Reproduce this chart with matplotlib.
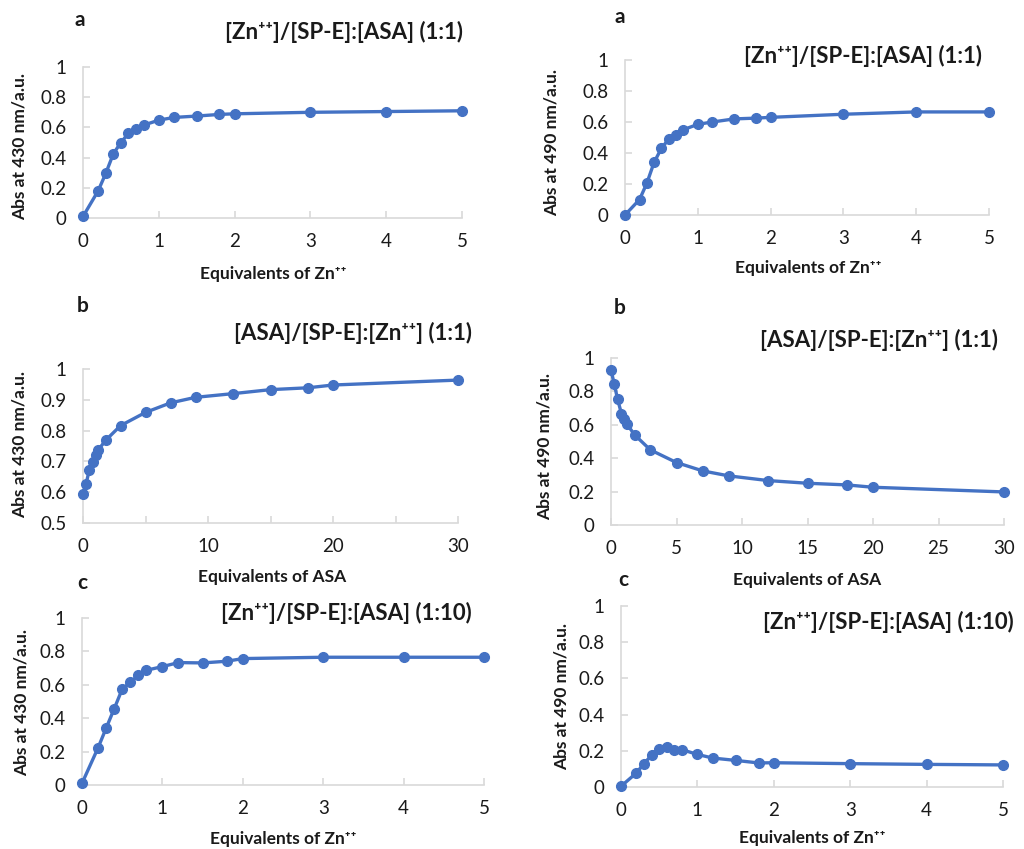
import matplotlib
matplotlib.use("Agg")
import matplotlib.pyplot as plt

plt.rcParams['font.family'] = ['Lato', 'DejaVu Sans']

# data
zn_eq = [0, 0.2, 0.3, 0.4, 0.5, 0.6, 0.7, 0.8, 1, 1.2, 1.5, 1.8, 2, 3, 4, 5]
asa_eq = [0, 0.25, 0.5, 0.8, 1, 1.2, 1.8, 3, 5, 7, 9, 12, 15, 18, 20, 30]

abs430_a = [0.01, 0.18, 0.295, 0.425, 0.50, 0.56, 0.59, 0.615, 0.648, 0.666, 0.675, 0.686, 0.69, 0.70, 0.705, 0.71]
abs490_a = [0.0, 0.10, 0.205, 0.34, 0.43, 0.49, 0.515, 0.55, 0.585, 0.60, 0.62, 0.625, 0.63, 0.65, 0.665, 0.665]
abs430_b = [0.594, 0.628, 0.671, 0.698, 0.72, 0.736, 0.768, 0.816, 0.859, 0.89, 0.908, 0.92, 0.933, 0.939, 0.948, 0.964]
abs490_b = [0.928, 0.844, 0.754, 0.666, 0.634, 0.606, 0.54, 0.45, 0.374, 0.324, 0.294, 0.266, 0.25, 0.24, 0.226, 0.198]
abs430_c = [0.01, 0.223, 0.34, 0.456, 0.574, 0.614, 0.657, 0.687, 0.709, 0.733, 0.731, 0.741, 0.757, 0.765, 0.765, 0.765]
abs490_c = [0.004, 0.077, 0.129, 0.175, 0.21, 0.219, 0.204, 0.206, 0.18, 0.16, 0.147, 0.133, 0.134, 0.129, 0.125, 0.122]

zn = 'Zn\u207a\u207a'
title_a = '[' + zn + ']/[SP-E]:[ASA] (1:1)'
title_b = '[ASA]/[SP-E]:[' + zn + '] (1:1)'
title_c = '[' + zn + ']/[SP-E]:[ASA] (1:10)'

W, H = 1024, 849
blue = '#4472C4'
grey = '#D9D9D9'
txt = '#1a1a1a'

fig = plt.figure(figsize=(W / 100, H / 100), dpi=100)


def px(x, y):
    return x / W, 1 - y / H


def make_axes(l, r, t, b):
    ax = fig.add_axes([l / W, 1 - b / H, (r - l) / W, (b - t) / H])
    for s in ['top', 'right']:
        ax.spines[s].set_visible(False)
    for s in ['left', 'bottom']:
        ax.spines[s].set_color(grey)
        ax.spines[s].set_linewidth(1.2)
    ax.tick_params(direction='in', length=5, width=1.2, color=grey,
                   labelsize=13.5, labelcolor=txt)
    ax.tick_params(axis='x', pad=11)
    ax.tick_params(axis='y', pad=12)
    ax.tick_params(which='minor', direction='in', length=5, width=1.2, color=grey)
    return ax


panels = [
    # x, y, axes box, y ticks, x ticks, letter, title, xlabel, ylabel
    dict(x=zn_eq, y=abs430_a, box=(83, 462, 67, 218), yt=[0, 0.2, 0.4, 0.6, 0.8, 1],
         xt=[0, 1, 2, 3, 4, 5], letter=('a', 80, 20), title=(title_a, 344, 32),
         xl=('Equivalents of ' + zn, 273, 274), yl=('Abs at 430 nm/a.u.', 20, 147)),
    dict(x=zn_eq, y=abs490_a, box=(625, 989, 60, 215), yt=[0, 0.2, 0.4, 0.6, 0.8, 1],
         xt=[0, 1, 2, 3, 4, 5], letter=('a', 620, 17), title=(title_a, 863, 56),
         xl=('Equivalents of ' + zn, 808, 268), yl=('Abs at 490 nm/a.u.', 552, 143)),
    dict(x=asa_eq, y=abs430_b, box=(83, 458, 369, 523), yt=[0.5, 0.6, 0.7, 0.8, 0.9, 1],
         xt=[0, 10, 20, 30], letter=('b', 83, 306), title=(title_b, 353, 333),
         xl=('Equivalents of ASA', 272, 577), yl=('Abs at 430 nm/a.u.', 20, 445)),
    dict(x=asa_eq, y=abs490_b, box=(611, 1004, 358, 525), yt=[0, 0.2, 0.4, 0.6, 0.8, 1],
         xt=[0, 5, 10, 15, 20, 25, 30], letter=('b', 620, 308), title=(title_b, 879, 340),
         xl=('Equivalents of ASA', 807, 580), yl=('Abs at 490 nm/a.u.', 545, 446)),
    dict(x=zn_eq, y=abs430_c, box=(82, 484, 618, 785), yt=[0, 0.2, 0.4, 0.6, 0.8, 1],
         xt=[0, 1, 2, 3, 4, 5], letter=('c', 82, 583), title=(title_c, 346, 613),
         xl=('Equivalents of ' + zn, 283, 839), yl=('Abs at 430 nm/a.u.', 22, 702)),
    dict(x=zn_eq, y=abs490_c, box=(621, 1003, 606, 787), yt=[0, 0.2, 0.4, 0.6, 0.8, 1],
         xt=[0, 1, 2, 3, 4, 5], letter=('c', 623, 580), title=(title_c, 888, 622),
         xl=('Equivalents of ' + zn, 812, 838), yl=('Abs at 490 nm/a.u.', 562, 697)),
]

for p in panels:
    ax = make_axes(*p['box'])
    ax.plot(p['x'], p['y'], color=blue, lw=2.4, marker='o', ms=7,
            clip_on=False, zorder=3)
    ax.set_xlim(p['xt'][0], p['xt'][-1])
    ax.set_ylim(p['yt'][0], p['yt'][-1])
    ax.set_xticks(p['xt'])
    ax.set_yticks(p['yt'])
    ax.set_yticklabels(['%g' % v for v in p['yt']])
    if p['xt'] == [0, 10, 20, 30]:
        ax.set_xticks([5, 15, 25], minor=True)

    s, x, y = p['letter']
    fig.text(*px(x, y), s, fontsize=15, fontweight='bold', color=txt, ha='center', va='center')
    s, x, y = p['title']
    fig.text(*px(x, y), s, fontsize=16, fontweight='bold', color=txt, ha='center', va='center')
    s, x, y = p['xl']
    fig.text(*px(x, y), s, fontsize=12.5, fontweight='bold', color=txt, ha='center', va='center')
    s, x, y = p['yl']
    fig.text(*px(x, y), s, fontsize=12.5, fontweight='bold', color=txt, ha='center', va='center',
             rotation=90)

fig.savefig('out.png', dpi=100, facecolor='white')
